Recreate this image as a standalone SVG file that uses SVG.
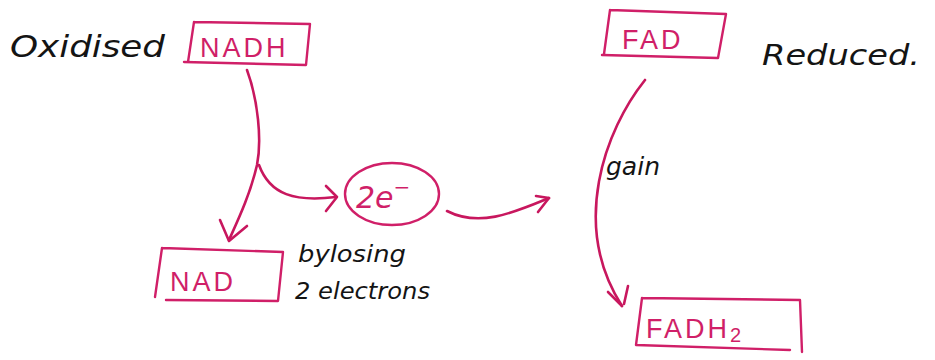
<svg xmlns="http://www.w3.org/2000/svg" width="935" height="360" viewBox="0 0 935 360">
<style>
.box{fill:none;stroke:#d01f68;stroke-width:2.4;stroke-linejoin:round;stroke-linecap:round}
.ink{fill:none;stroke:#c8175e;stroke-width:2.6;stroke-linecap:round;stroke-linejoin:round}
.lbl{font-family:"Liberation Sans",Arial,sans-serif;fill:#d01f68;font-size:27px;letter-spacing:3px}
.hand{font-family:"DejaVu Sans",sans-serif;font-style:italic;fill:#141414}
</style>
<rect width="935" height="360" fill="#ffffff"/>
<g id="label-oxidised"><text class="hand" x="10" y="57" font-size="30" textLength="155" lengthAdjust="spacingAndGlyphs">Oxidised</text></g>
<g id="node-nadh">
<path class="box" d="M194,22 L310,24 L306,65 L184,62 M194,22 L188,62"/>
<text class="lbl" x="200" y="57" font-size="29">NADH</text>
</g>
<g id="node-fad">
<path class="box" d="M610,10 L726,14 L718,58 L602,55 M610,10 L604,54"/>
<text class="lbl" x="622" y="49" font-size="28">FAD</text>
</g>
<g id="label-reduced"><text class="hand" x="762" y="65" font-size="28" textLength="158" lengthAdjust="spacingAndGlyphs">Reduced.</text></g>
<g id="node-nad">
<path class="box" d="M162,248 L283,252 L278,301 L166,300 M162,248 L155,297"/>
<text class="lbl" x="170" y="291" font-size="25">NAD</text>
</g>
<g id="node-2e">
<ellipse class="box" cx="392" cy="194" rx="47" ry="31"/>
<text class="hand" x="356" y="208" font-size="30" style="fill:#d01f68">2e<tspan dy="-14" font-size="20">−</tspan></text>
</g>
<g id="label-losing">
<text class="hand" x="298" y="262" font-size="23" textLength="108" lengthAdjust="spacingAndGlyphs">bylosing</text>
<text class="hand" x="295" y="299" font-size="23" textLength="135" lengthAdjust="spacingAndGlyphs">2 electrons</text>
</g>
<g id="label-gain"><text class="hand" x="606" y="175" font-size="25">gain</text></g>
<g id="node-fadh2">
<path class="box" d="M642,298 L800,300 L802,352 M636,345 L790,350 M642,298 L636,345"/>
<text class="lbl" x="646" y="338" font-size="29">FADH<tspan font-size="20" dy="4">2</tspan></text>
</g>
<g id="connectors">
<path class="ink" d="M247,70 C258,100 262,140 257,165 C250,195 238,220 229,240"/>
<path class="ink" d="M220,220 L229,241 L247,226"/>
<path class="ink" d="M259,165 C270,195 295,202 336,197"/>
<path class="ink" d="M326,186 L337,197 L326,211"/>
<path class="ink" d="M447,211 C480,228 515,212 549,198"/>
<path class="ink" d="M536,196 L549,198 L538,212"/>
<path class="ink" d="M645,80 C605,130 570,225 622,306"/>
<path class="ink" d="M608,292 L622,306 M628,286 L624,304"/>
</g>
</svg>
